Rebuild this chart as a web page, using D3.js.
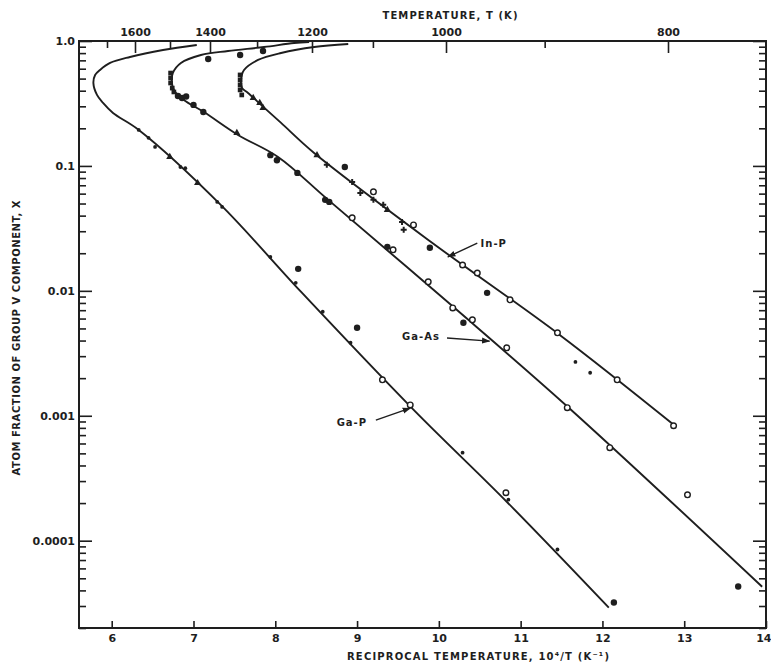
<!DOCTYPE html>
<html>
<head>
<meta charset="utf-8">
<script src="https://cdnjs.cloudflare.com/ajax/libs/d3/7.8.5/d3.min.js"></script>
<style>
body { margin: 0; background: #fff; }
text { font-family: "DejaVu Sans", sans-serif; font-weight: bold; fill: #1e1e1e; }
.curve { fill: none; stroke: #1e1e1e; stroke-width: 1.9px; }
.axis line { stroke: #1e1e1e; stroke-width: 1.6px; }
.axis path { display: none; }
</style>
</head>
<body>
<svg width="771" height="668"></svg>
<script>
// solidus curves, [10^4/T, atom fraction]
var gaPCurve = [[7.04,0.929],[6.627,0.847],[6.224,0.745],[5.98,0.667],[5.857,0.586],[5.797,0.534],
  [5.776,0.46],[5.82,0.37],[5.894,0.319],[6.016,0.265],[6.331,0.194],[7.33,0.049],[8.316,0.0098],
  [9.689,0.00112],[10.83,0.000205],[12.078,2.91e-5]];
var gaAsCurve = [[8.414,0.982],[8.230,0.964],[7.863,0.895],[7.422,0.832],[7.091,0.773],[6.846,0.667],
  [6.748,0.555],[6.735,0.470],[6.760,0.406],[6.882,0.337],[7.127,0.270],[7.544,0.177],[8.034,0.118],
  [8.647,0.0535],[10.19,0.00731],[11.588,0.00116],[13.953,4.28e-5]];
var inPCurve = [[8.892,0.946],[8.475,0.895],[8.071,0.802],[7.789,0.705],[7.618,0.586],[7.581,0.488],
  [7.593,0.421],[7.667,0.384],[7.826,0.308],[8.071,0.221],[8.475,0.127],[9.909,0.0245],
  [11.466,0.0045],[12.887,0.000832]];

// measured points [10^4/T, x, symbol]
var gaPPoints = [[6.33,0.194,"dot"],[6.45,0.168,"dot"],[6.53,0.142,"dot"],[6.71,0.118,"tri"],[6.84,0.098,"dot"],
  [6.90,0.096,"dot"],[7.05,0.073,"tri"],[7.29,0.0515,"dot"],[7.35,0.047,"dot"],[7.94,0.0187,"dot"],
  [8.25,0.0116,"dot"],[8.58,0.0068,"dot"],[8.92,0.00384,"dot"],[9.31,0.00194,"open"],[9.65,0.00122,"open"],
  [10.29,0.000506,"dot"],[10.82,0.000242,"open"],[10.85,0.000213,"dot"],[11.45,8.5e-5,"dot"],
  [8.28,0.015,"fill"],[9.0,0.00506,"fill"],[12.14,3.2e-5,"fill"]];
var gaAsPoints = [[6.72,0.554,"sq"],[6.72,0.506,"sq"],[6.72,0.461,"sq"],[6.74,0.42,"sq"],[6.76,0.391,"sq"],
  [6.81,0.363,"fill"],[6.86,0.35,"fill"],[6.91,0.36,"fill"],[7.18,0.718,"fill"],[7.57,0.773,"fill"],
  [7.85,0.832,"fill"],[7.00,0.308,"fill"],[7.12,0.27,"fill"],[7.53,0.184,"tri"],[7.94,0.122,"fill"],
  [8.02,0.111,"fill"],[8.27,0.0879,"fill"],[8.61,0.0535,"fill"],[8.66,0.0515,"fill"],[8.94,0.0384,"open"],
  [9.37,0.0225,"fill"],[9.44,0.0213,"open"],[9.87,0.0118,"open"],[10.17,0.0073,"open"],[10.30,0.00555,"fill"],
  [10.41,0.00586,"open"],[10.83,0.0035,"open"],[11.57,0.00116,"open"],[12.09,0.000555,"open"],
  [13.04,0.000233,"open"],[13.66,4.3e-5,"fill"]];
var inPPoints = [[7.57,0.535,"sq"],[7.57,0.488,"sq"],[7.57,0.445,"sq"],[7.57,0.406,"sq"],[7.59,0.37,"sq"],
  [7.73,0.35,"tri"],[7.81,0.319,"tri"],[7.85,0.291,"tri"],[8.51,0.122,"tri"],[8.63,0.102,"cross"],
  [8.85,0.098,"fill"],[8.94,0.0745,"cross"],[9.04,0.0608,"cross"],[9.2,0.062,"open"],[9.2,0.0535,"cross"],
  [9.32,0.0488,"cross"],[9.37,0.0445,"tri"],[9.55,0.0356,"cross"],[9.57,0.0308,"cross"],[9.69,0.0337,"open"],
  [9.89,0.0221,"fill"],[10.29,0.0161,"open"],[10.47,0.0139,"open"],[10.59,0.00964,"fill"],[10.87,0.00847,"open"],
  [11.45,0.00461,"open"],[11.67,0.0027,"dot"],[11.85,0.00221,"dot"],[12.18,0.00194,"open"],[12.87,0.000832,"open"]];

// axis ticks
var xTicks = [6,7,8,9,10,11,12,13,14];
var yMajor = [1, 0.1, 0.01, 0.001, 0.0001];
var yMajorLabels = ["1.0","0.1","0.01","0.001","0.0001"];
var tempMajor = [1600,1400,1200,1000,800];
var tempMinor = [1700,1500,1300,1100,900];

// curve labels: text, text anchor [10^4/T, x], arrow from, arrow to
var labels = [
  {text: "In-P", at: [10.51,0.0224], from: [10.47,0.0241], to: [10.11,0.0187]},
  {text: "Ga-As", at: [9.55,0.00404], from: [10.10,0.00419], to: [10.62,0.00396]},
  {text: "Ga-P", at: [8.75,0.000828], from: [9.23,0.000924], to: [9.65,0.00115]}
];

var svg = d3.select("svg");
var pl = 79, pr = 766, pt = 41, pb = 628;

var x = d3.scaleLinear().domain([5.6, 14]).range([pl, pr]);
var y = d3.scaleLog().domain([2e-5, 1]).range([pb, pt]);
// the printed temperature scale does not sit exactly on the bottom one,
// so it gets its own piecewise scale of 10^4/T
var tx = d3.scaleLinear()
  .domain([1e4 / 1700, 1e4 / 1600, 1e4 / 1400, 1e4 / 1200, 1e4 / 1000, 1e4 / 800])
  .range([107, 135, 210, 312, 446, 668]);

var yMinor = [];
for (var e = -5; e <= -1; e++) {
  for (var m = 2; m <= 9; m++) {
    var v = m * Math.pow(10, e);
    if (v >= 2e-5 && v < 1) yMinor.push(v);
  }
}

// axes, ticks pointing inward
var xg = svg.append("g").attr("class", "axis")
  .attr("transform", "translate(0," + pb + ")")
  .call(d3.axisBottom(x).tickValues(xTicks).tickSize(-7).tickPadding(6).tickFormat(d3.format("d")));
xg.selectAll("text").attr("font-size", "11px");
xg.selectAll("text").filter(function(d) { return d === 14; }).attr("text-anchor", "end").attr("dx", "5");

svg.append("g").attr("class", "axis")
  .attr("transform", "translate(" + pl + ",0)")
  .call(d3.axisLeft(y).tickValues(yMajor).tickSize(-13).tickPadding(4)
    .tickFormat(function(d, i) { return yMajorLabels[i]; }))
  .selectAll("text").attr("font-size", "11px");
svg.append("g").attr("class", "axis")
  .attr("transform", "translate(" + pl + ",0)")
  .call(d3.axisLeft(y).tickValues(yMinor).tickSize(-7).tickFormat(""));

svg.append("g").attr("class", "axis")
  .attr("transform", "translate(" + pr + ",0)")
  .call(d3.axisRight(y).tickValues(yMajor).tickSize(-13).tickFormat(""));
svg.append("g").attr("class", "axis")
  .attr("transform", "translate(" + pr + ",0)")
  .call(d3.axisRight(y).tickValues(yMinor).tickSize(-7).tickFormat(""));

// top temperature axis, placed at 10^4/T
svg.append("g").attr("class", "axis")
  .attr("transform", "translate(0," + pt + ")")
  .call(d3.axisTop(tx).tickValues(tempMajor.map(function(t) { return 1e4 / t; }))
    .tickSize(-12).tickPadding(5)
    .tickFormat(function(v) { return Math.round(1e4 / v); }))
  .selectAll("text").attr("font-size", "11px");
svg.append("g").attr("class", "axis")
  .attr("transform", "translate(0," + pt + ")")
  .call(d3.axisTop(tx).tickValues(tempMinor.map(function(t) { return 1e4 / t; }))
    .tickSize(-7).tickFormat(""));

// frame
svg.append("rect")
  .attr("x", pl).attr("y", pt).attr("width", pr - pl).attr("height", pb - pt)
  .attr("fill", "none").attr("stroke", "#1e1e1e").attr("stroke-width", 2);

// curves
var line = d3.line()
  .x(function(d) { return x(d[0]); })
  .y(function(d) { return y(d[1]); })
  .curve(d3.curveCatmullRom.alpha(0.5));

[gaPCurve, gaAsCurve, inPCurve].forEach(function(c) {
  svg.append("path").datum(c).attr("class", "curve").attr("d", line);
});

// points
var sym = {
  tri: d3.symbol().type(d3.symbolTriangle).size(22),
  sq: d3.symbol().type(d3.symbolSquare).size(22),
  cross: d3.symbol().type(d3.symbolCross).size(20)
};
var pts = gaPPoints.concat(gaAsPoints, inPPoints);
var pg = svg.append("g");
pts.forEach(function(d) {
  var cx = x(d[0]), cy = y(d[1]);
  if (d[2] === "dot" || d[2] === "fill" || d[2] === "open") {
    pg.append("circle").attr("cx", cx).attr("cy", cy)
      .attr("r", d[2] === "dot" ? 1.9 : (d[2] === "fill" ? 3.2 : 2.8))
      .attr("fill", d[2] === "open" ? "#fff" : "#1e1e1e")
      .attr("stroke", "#1e1e1e").attr("stroke-width", d[2] === "open" ? 1.4 : 0);
  } else {
    pg.append("path").attr("d", sym[d[2]]())
      .attr("transform", "translate(" + cx + "," + cy + ")")
      .attr("fill", "#1e1e1e");
  }
});

// curve labels with arrows
svg.append("defs").append("marker")
  .attr("id", "head").attr("viewBox", "0 0 10 10").attr("refX", 9).attr("refY", 5)
  .attr("markerWidth", 6).attr("markerHeight", 6).attr("orient", "auto")
  .append("path").attr("d", "M0,1.5L10,5L0,8.5Z").attr("fill", "#1e1e1e");

labels.forEach(function(l) {
  svg.append("text").attr("x", x(l.at[0])).attr("y", y(l.at[1]))
    .attr("font-size", "10px").attr("letter-spacing", "1px").text(l.text);
  svg.append("line")
    .attr("x1", x(l.from[0])).attr("y1", y(l.from[1]))
    .attr("x2", x(l.to[0])).attr("y2", y(l.to[1]))
    .attr("stroke", "#1e1e1e").attr("stroke-width", 1.4)
    .attr("marker-end", "url(#head)");
});

// axis titles
svg.append("text").attr("x", 450).attr("y", 19).attr("text-anchor", "middle")
  .attr("font-size", "10px").attr("textLength", 135).text("TEMPERATURE, T (K)");
svg.append("text").attr("x", 478).attr("y", 660).attr("text-anchor", "middle")
  .attr("font-size", "10px").attr("textLength", 262)
  .text("RECIPROCAL  TEMPERATURE, 10\u2074/T (K\u207B\u00B9)");
svg.append("text").attr("transform", "translate(20,338) rotate(-90)").attr("text-anchor", "middle")
  .attr("font-size", "10px").attr("textLength", 275)
  .text("ATOM FRACTION OF GROUP \u2164 COMPONENT, X");
</script>
</body>
</html>
